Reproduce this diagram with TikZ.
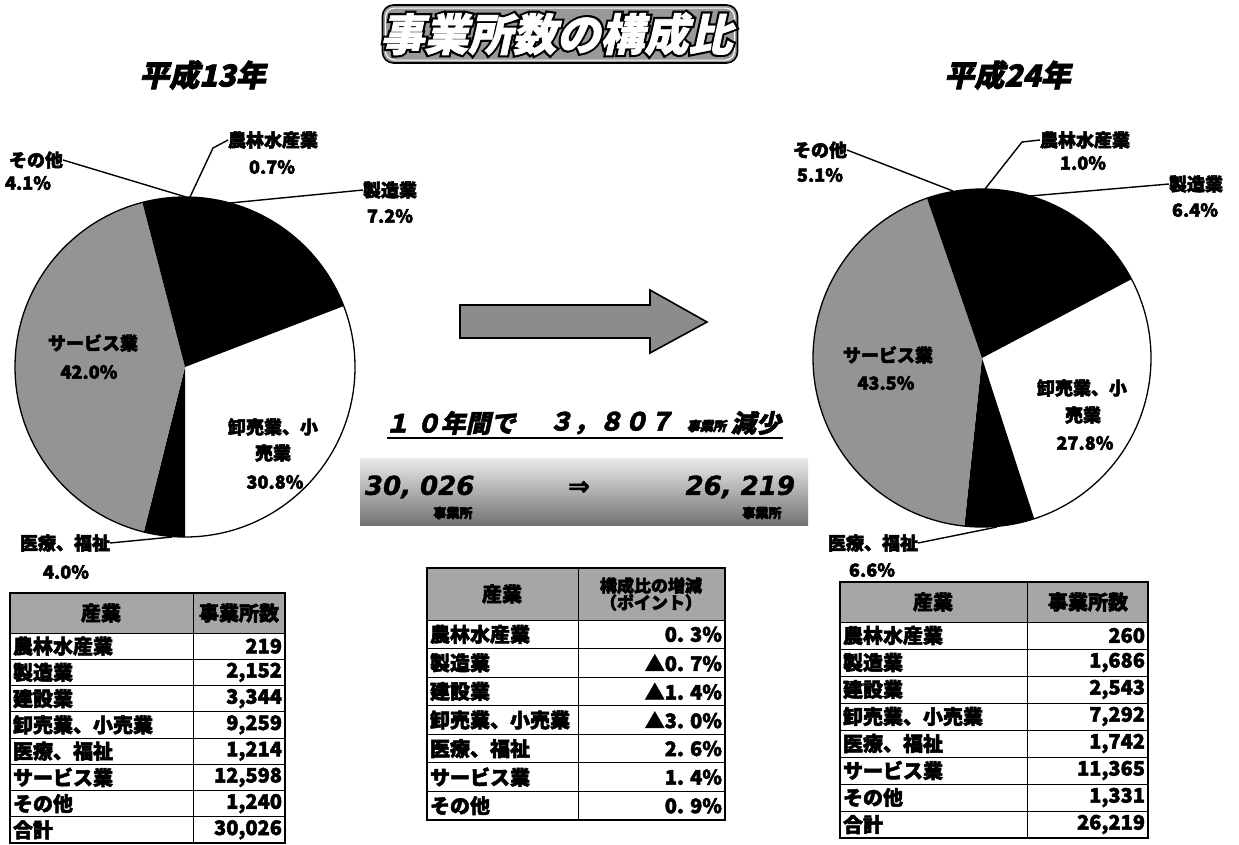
\documentclass[tikz,border=0pt]{standalone}
\usepackage{fontspec}
\setmainfont{Noto Sans CJK JP}
\newfontfamily\numfont{DejaVu Sans}
\newcommand\myfs[1]{\fontsize{#1}{#1}\selectfont}
\newcommand\strokewd[1]{\special{pdf:literal direct 2 Tr #1 w}}
\begin{document}
\begin{tikzpicture}[x=1pt,y=-1pt,
  every node/.style={inner sep=0pt,outer sep=0pt,execute at begin node={\strokewd{0.5}}},
  ital/.style={xslant=0.22},
  lbl/.style={font=\myfs{18}\bfseries,align=center},
  lead/.style={line width=1.4pt,black},
  sgray/.style={fill=black!42},
  tname/.style={font=\myfs{20}\bfseries,anchor=west},
  tval/.style={font=\myfs{20}\bfseries,anchor=east},
  thead/.style={font=\myfs{20}\bfseries,align=center},
  hfill/.style={fill=black!35},
  outer/.style={line width=2.6pt},
  inner/.style={line width=1pt},
  yearlbl/.style={font=\myfs{30}\bfseries,ital,execute at begin node={\strokewd{0.8}}}]
\useasboundingbox (0,0) rectangle (1239,844);
\fill[white] (0,0) rectangle (1239,844);

% ---------- title ----------
\node[draw=black,line width=1.6pt,fill=black!40,rounded corners=11pt,
      minimum width=355,minimum height=58] (title) at (560,34) {};
\draw[white,line width=1pt,rounded corners=9pt] ([shift={(3,3)}]title.north west) rectangle ([shift={(-3,-3)}]title.south east);
\node[font=\myfs{44}\bfseries,ital,text=black,
      execute at begin node={\strokewd{5}}] (tshadow) at (title.center) {事業所数の構成比};
\node[font=\myfs{44}\bfseries,ital,text=white,
      execute at begin node={\strokewd{0.6}}] (ttext) at (title.center) {事業所数の構成比};

\node[yearlbl] (y13) at (205,75) {平成13年};
\node[yearlbl] (y24) at (1010,75) {平成24年};

% ---------- left pie ----------
\coordinate (LC) at (185,367);
\fill[white] (LC) -- +(-21:170) arc[start angle=-21,end angle=90,radius=170] -- cycle;
\fill[black] (LC) -- +(90:170) arc[start angle=90,end angle=104,radius=170] -- cycle;
\fill[sgray] (LC) -- +(104:170) arc[start angle=104,end angle=255.5,radius=170] -- cycle;
\fill[black] (LC) -- +(255.5:170) arc[start angle=255.5,end angle=339,radius=170] -- cycle;
\draw[line width=1.3pt] (LC) circle[radius=170];

\node[lbl] (Lsv) at (93,343) {サービス業};
\node[lbl] (Lsvp) at (89,372) {42.0\%};
\node[lbl] (Lor1) at (273,427) {卸売業、小};
\node[lbl] (Lor2) at (273,453) {売業};
\node[lbl] (Lorp) at (275,482) {30.8\%};

\node[lbl] (Lso) at (36,160) {その他};
\node[lbl] (Lsop) at (28,183) {4.1\%};
\node[lbl] (Lno) at (273,140) {農林水産業};
\node[lbl] (Lnop) at (272,167) {0.7\%};
\node[lbl] (Lse) at (390,190) {製造業};
\node[lbl] (Lsep) at (390,216) {7.2\%};
\node[lbl] (Lir) at (65,543) {医療、福祉};
\node[lbl] (Lirp) at (66,572) {4.0\%};

\coordinate (Lp1) at (186,197);
\coordinate (Lp2) at (190,197);
\coordinate (Lk2) at (213,148);
\coordinate (Lp3) at (230,203);
\coordinate (Lp4) at (172,537);
\draw[lead] (Lso.east) -- (Lp1);
\draw[lead] (Lno.west) -- (Lk2) -- (Lp2);
\draw[lead] (Lse.west) -- (Lp3);
\draw[lead] (Lir.east) -- (Lp4);

% ---------- right pie ----------
\coordinate (RC) at (982,358);
\fill[white] (RC) -- +(-27.8:169) arc[start angle=-27.8,end angle=72,radius=169] -- cycle;
\fill[black] (RC) -- +(72:169) arc[start angle=72,end angle=96,radius=169] -- cycle;
\fill[sgray] (RC) -- +(96:169) arc[start angle=96,end angle=251,radius=169] -- cycle;
\fill[black] (RC) -- +(251:169) arc[start angle=251,end angle=332.2,radius=169] -- cycle;
\draw[line width=1.3pt] (RC) circle[radius=169];

\node[lbl] (Rsv) at (888,355) {サービス業};
\node[lbl] (Rsvp) at (886,383) {43.5\%};
\node[lbl] (Ror1) at (1082,388) {卸売業、小};
\node[lbl] (Ror2) at (1083,415) {売業};
\node[lbl] (Rorp) at (1085,443) {27.8\%};

\node[lbl] (Rso) at (820,150) {その他};
\node[lbl] (Rsop) at (820,175) {5.1\%};
\node[lbl] (Rno) at (1085,140) {農林水産業};
\node[lbl] (Rnop) at (1083,163) {1.0\%};
\node[lbl] (Rse) at (1196,184) {製造業};
\node[lbl] (Rsep) at (1195,210) {6.4\%};
\node[lbl] (Rir) at (873,543) {医療、福祉};
\node[lbl] (Rirp) at (872,570) {6.6\%};

\coordinate (Rp1) at (953,191);
\coordinate (Rp2) at (985,189);
\coordinate (Rk2) at (1022,142);
\coordinate (Rp3) at (1030,196);
\coordinate (Rp4) at (997,527);
\draw[lead] (Rso.east) -- (Rp1);
\draw[lead] (Rno.west) -- (Rk2) -- (Rp2);
\draw[lead] (Rse.west) -- (Rp3);
\draw[lead] (Rir.east) -- (Rp4);

% ---------- centre arrow ----------
\draw[line width=1.6pt,fill=black!45] (460,305) -- (650,305) -- (650,290) -- (707,322)
  -- (650,353) -- (650,338) -- (460,338) -- cycle;

% ---------- centre text ----------
\node[font=\myfs{25}\bfseries,ital,anchor=west] (c1) at (387,423) {１ ０年間で};
\node[font=\myfs{25}\bfseries,ital,anchor=west] (c2) at (550,423) {３，８０７};
\node[font=\myfs{13}\bfseries,ital,anchor=west] (c3) at (688,426) {事業所};
\node[font=\myfs{25}\bfseries,ital,anchor=west] (c4) at (733,423) {減少};
\draw[line width=1.6pt] (387,438) -- (783,438);

\shade[top color=black!8,bottom color=black!55] (360,458) rectangle (808,525);
\node[font=\numfont\myfs{26}\bfseries\itshape,anchor=west,execute at begin node={\strokewd{0.4}}] (n1) at (365,487) {30, 026};
\node[font=\numfont\myfs{26}\bfseries] (n2) at (579,488) {⇒};
\node[font=\numfont\myfs{26}\bfseries\itshape,anchor=east,execute at begin node={\strokewd{0.4}}] (n3) at (795,487) {26, 219};
\node[font=\myfs{13}\bfseries] (n4) at (453,513) {事業所};
\node[font=\myfs{13}\bfseries] (n5) at (762,513) {事業所};

% ---------- left table ----------
\fill[hfill] (10,593) rectangle (285,633);
\foreach \i in {1,...,7} \draw[inner] (10,{633+\i*26.25}) -- (285,{633+\i*26.25});
\draw[inner] (10,633) -- (285,633);
\draw[inner] (193,593) -- (193,843);
\draw[outer] (10,593) rectangle (285,843);
\node[thead] (LTh1) at (101,613) {産業};
\node[thead] (LTh2) at (239,613) {事業所数};
\foreach \n/\v [count=\i] in {農林水産業/219,製造業/2{,}152,建設業/3{,}344,卸売業、小売業/9{,}259,医療、福祉/1{,}214,サービス業/12{,}598,その他/1{,}240,合計/30{,}026}{
  \node[tname] (LTn\i) at (13,{633+(\i-0.5)*26.25}) {\n};
  \node[tval] (LTv\i) at (282,{633+(\i-0.5)*26.25}) {\v};
}

% ---------- centre table ----------
\fill[hfill] (427,568) rectangle (725,620);
\foreach \i in {1,...,6} \draw[inner] (427,{620+\i*28.57}) -- (725,{620+\i*28.57});
\draw[inner] (427,620) -- (725,620);
\draw[inner] (578,568) -- (578,820);
\draw[outer] (427,568) rectangle (725,820);
\node[thead] (CTh1) at (502,594) {産業};
\node[thead,font=\myfs{17}\bfseries] (CTh2) at (651,594) {構成比の増減\\（ポイント）};
\foreach \n/\v [count=\i] in {農林水産業/0. 3\%,製造業/▲0. 7\%,建設業/▲1. 4\%,卸売業、小売業/▲3. 0\%,医療、福祉/2. 6\%,サービス業/1. 4\%,その他/0. 9\%}{
  \node[tname] (CTn\i) at (430,{620+(\i-0.5)*28.57}) {\n};
  \node[tval] (CTv\i) at (722,{620+(\i-0.5)*28.57}) {\v};
}

% ---------- right table ----------
\fill[hfill] (840,582) rectangle (1148,622);
\foreach \i in {1,...,7} \draw[inner] (840,{622+\i*27}) -- (1148,{622+\i*27});
\draw[inner] (840,622) -- (1148,622);
\draw[inner] (1027,582) -- (1027,838);
\draw[outer] (840,582) rectangle (1148,838);
\node[thead] (RTh1) at (933,602) {産業};
\node[thead] (RTh2) at (1088,602) {事業所数};
\foreach \n/\v [count=\i] in {農林水産業/260,製造業/1{,}686,建設業/2{,}543,卸売業、小売業/7{,}292,医療、福祉/1{,}742,サービス業/11{,}365,その他/1{,}331,合計/26{,}219}{
  \node[tname] (RTn\i) at (843,{622+(\i-0.5)*27}) {\n};
  \node[tval] (RTv\i) at (1145,{622+(\i-0.5)*27}) {\v};
}
\end{tikzpicture}
\end{document}
